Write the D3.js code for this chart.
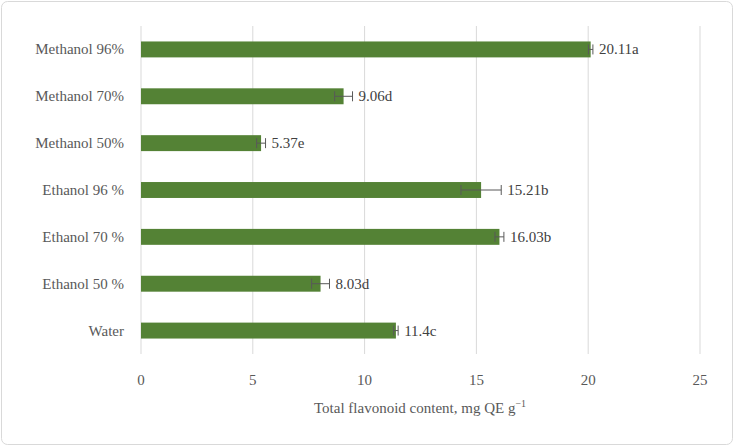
<!DOCTYPE html>
<html><head><meta charset="utf-8">
<script src="https://cdn.jsdelivr.net/npm/d3@7"></script>
<style>body{margin:0;background:#fff}svg{font-family:"Liberation Serif","DejaVu Serif",serif}</style>
</head><body><svg id="c" width="734" height="446"></svg>
<script>
const categories=["Methanol 96%","Methanol 70%","Methanol 50%","Ethanol 96 %","Ethanol 70 %","Ethanol 50 %","Water"];
const values=[20.11,9.06,5.37,15.21,16.03,8.03,11.4];
const errors=[0.1,0.4,0.2,0.9,0.2,0.4,0.1];
const labels=["20.11a","9.06d","5.37e","15.21b","16.03b","8.03d","11.4c"];
const ticks=[0,5,10,15,20,25];
const svg=d3.select("#c");
svg.append("rect").attr("x",1.5).attr("y",1.5).attr("width",731).attr("height",443).attr("rx",6).attr("fill","#fff").attr("stroke","#d9d9d9");
const x=d3.scaleLinear().domain([0,25]).range([141,700]);
const y=d3.scaleBand().domain(categories).range([26,354]).paddingInner(0.66).paddingOuter(0.33);
svg.append("g").selectAll("line").data(ticks).join("line").attr("x1",d=>x(d)).attr("x2",d=>x(d)).attr("y1",26).attr("y2",354).attr("stroke","#d9d9d9");
const g=svg.append("g");
g.selectAll("rect").data(values).join("rect").attr("x",x(0)).attr("y",(d,i)=>y(categories[i])).attr("width",d=>x(d)-x(0)).attr("height",y.bandwidth()).attr("fill","#548235");
values.forEach((v,i)=>{const cy=y(categories[i])+y.bandwidth()/2;
 g.append("line").attr("x1",x(v-errors[i])).attr("x2",x(v+errors[i])).attr("y1",cy).attr("y2",cy).attr("stroke","#595959");
 [v-errors[i],v+errors[i]].forEach(e=>g.append("line").attr("x1",x(e)).attr("x2",x(e)).attr("y1",cy-5).attr("y2",cy+5).attr("stroke","#595959"));
 g.append("text").attr("x",x(v+errors[i])+6).attr("y",cy+5).attr("font-size",15).attr("fill","#404040").text(labels[i]);
 svg.append("text").attr("x",124).attr("y",cy+5).attr("text-anchor","end").attr("font-size",15).attr("fill","#595959").text(categories[i]);
});
svg.append("g").selectAll("text").data(ticks).join("text").attr("x",d=>x(d)).attr("y",385).attr("text-anchor","middle").attr("font-size",15).attr("fill","#595959").text(d=>d);
const t=svg.append("text").attr("x",420).attr("y",413).attr("text-anchor","middle").attr("font-size",15).attr("fill","#595959").text("Total flavonoid content, mg QE g");
t.append("tspan").attr("dy",-6).attr("font-size",10).text("−1");
</script></body></html>
